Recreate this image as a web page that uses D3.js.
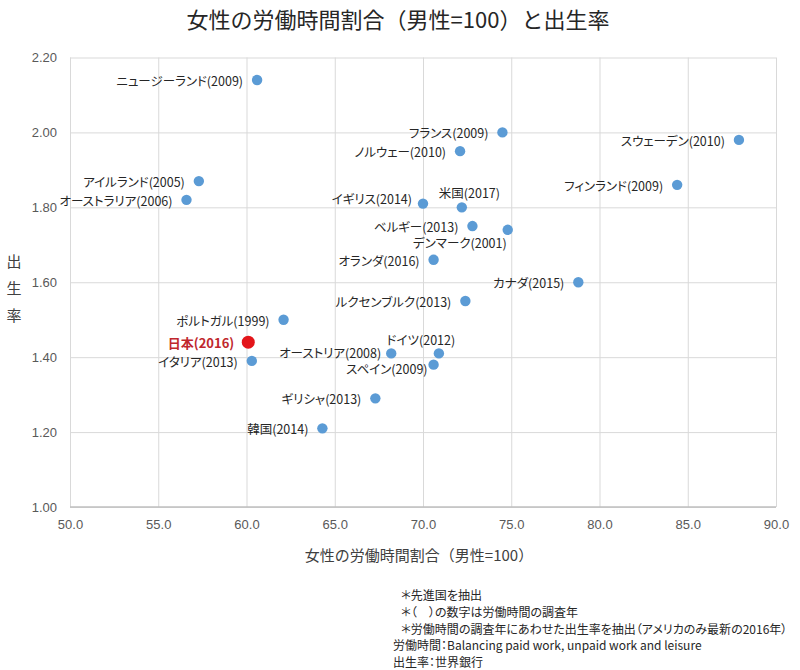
<!DOCTYPE html>
<html>
<head>
<meta charset="utf-8">
<script src="https://cdn.jsdelivr.net/npm/d3@7"></script>
<style>
  body { margin: 0; background: #fff; }
  svg { font-family: "Noto Sans CJK JP", "Noto Sans", sans-serif; font-feature-settings: "palt"; }
  .grid line { stroke: #d9d9d9; }
  .tick text { fill: #595959; font-size: 13px; font-feature-settings: normal; }
  .ptlabel { fill: #262626; font-size: 12.5px; }
  .note { fill: #262626; font-size: 12px; }
</style>
</head>
<body>
<div id="chart"></div>
<script>
// --- data ---
const countries = ['ニュージーランド', 'アイルランド', 'オーストラリア', 'フランス', 'ノルウェー',
  'スウェーデン', 'フィンランド', 'イギリス', '米国', 'ベルギー', 'デンマーク', 'オランダ',
  'カナダ', 'ルクセンブルク', 'ポルトガル', '日本', 'イタリア', 'オーストリア', 'ドイツ',
  'スペイン', 'ギリシャ', '韓国'];
const surveyYears = [2009, 2005, 2006, 2009, 2010, 2010, 2009, 2014, 2017, 2013, 2001, 2016,
  2015, 2013, 1999, 2016, 2013, 2008, 2012, 2009, 2013, 2014];
const workRatio = [60.6, 57.3, 56.6, 74.5, 72.1, 87.9, 84.4, 70.0, 72.2, 72.8, 74.8, 70.6,
  78.8, 72.4, 62.1, 60.1, 60.3, 68.2, 70.9, 70.6, 67.3, 64.3];
const birthRate = [2.14, 1.87, 1.82, 2.00, 1.95, 1.98, 1.86, 1.81, 1.80, 1.75, 1.74, 1.66,
  1.60, 1.55, 1.50, 1.44, 1.39, 1.41, 1.41, 1.38, 1.29, 1.21];
const xTicks = [50, 55, 60, 65, 70, 75, 80, 85, 90];
const yTicks = [1.0, 1.2, 1.4, 1.6, 1.8, 2.0, 2.2];
const highlight = '日本';

const title = '女性の労働時間割合（男性=100）と出生率';
const xTitle = '女性の労働時間割合（男性=100）';
const yTitle = '出生率';
const notes = [
  '＊先進国を抽出',
  '＊（　）の数字は労働時間の調査年',
  '＊労働時間の調査年にあわせた出生率を抽出（アメリカのみ最新の2016年）',
  '労働時間：Balancing paid work, unpaid work and leisure',
  '出生率：世界銀行'
];

// label placement overrides (anchor, dx from point, dy of text centre)
const labelPlace = {
  'イギリス': ['end', -11, -4],
  '米国': ['start', -23, -14],
  'デンマーク': ['end', -1, 14],
  'ドイツ': ['middle', -18, -12.5],
  'スペイン': ['end', -6, 5],
  'オーストリア': ['end', -10, 0]
};
const defaultPlace = ['end', -14, 1.5];

// --- layout ---
const W = 800, H = 670;
const plotL = 70, plotR = 776, plotT = 57.5, plotB = 507;

const svg = d3.select('#chart').append('svg')
  .attr('width', W).attr('height', H);

const x = d3.scaleLinear().domain([50, 90]).range([plotL, plotR]);
const y = d3.scaleLinear().domain([1.0, 2.2]).range([plotB, plotT]);

// gridlines + tick labels
svg.append('g')
  .attr('class', 'grid')
  .attr('transform', `translate(0,${plotB})`)
  .call(d3.axisBottom(x).tickValues(xTicks).tickFormat(d3.format('.1f'))
    .tickSize(-(plotB - plotT)).tickPadding(13))
  .call(g => g.select('.domain').remove());

svg.append('g')
  .attr('class', 'grid')
  .attr('transform', `translate(${plotL},0)`)
  .call(d3.axisLeft(y).tickValues(yTicks).tickFormat(d3.format('.2f'))
    .tickSize(-(plotR - plotL)).tickPadding(13))
  .call(g => g.select('.domain').remove());

// bottom axis line
svg.append('line')
  .attr('x1', plotL).attr('x2', plotR)
  .attr('y1', plotB).attr('y2', plotB)
  .attr('stroke', '#bfbfbf').attr('stroke-width', 1.3);

// titles
svg.append('text')
  .attr('x', 398).attr('y', 28)
  .attr('text-anchor', 'middle')
  .attr('fill', '#262626')
  .style('font-size', '22px')
  .style('font-feature-settings', 'normal')
  .text(title);

svg.append('text')
  .attr('x', 419).attr('y', 561)
  .attr('text-anchor', 'middle')
  .attr('fill', '#404040')
  .style('font-size', '15px')
  .style('font-feature-settings', 'normal')
  .text(xTitle);

svg.append('g')
  .selectAll('text')
  .data(Array.from(yTitle))
  .join('text')
  .attr('x', 14)
  .attr('y', (d, i) => 267 + i * 27)
  .attr('text-anchor', 'middle')
  .attr('fill', '#404040')
  .style('font-size', '15px')
  .text(d => d);

// points
const pts = countries.map((c, i) => ({
  name: c, year: surveyYears[i], wx: workRatio[i], br: birthRate[i]
}));

svg.append('g')
  .selectAll('circle')
  .data(pts)
  .join('circle')
  .attr('cx', d => x(d.wx))
  .attr('cy', d => y(d.br))
  .attr('r', d => d.name === highlight ? 6.5 : 5.2)
  .attr('fill', d => d.name === highlight ? '#e3151a' : '#5b9bd5');

svg.append('g')
  .selectAll('text')
  .data(pts)
  .join('text')
  .attr('class', 'ptlabel')
  .each(function (d) {
    const [anchor, dx, dy] = labelPlace[d.name] || defaultPlace;
    d3.select(this)
      .attr('text-anchor', anchor)
      .attr('x', x(d.wx) + dx)
      .attr('y', y(d.br) + dy)
      .attr('dy', '0.36em');
  })
  .style('fill', d => d.name === highlight ? '#c0272d' : null)
  .style('font-weight', d => d.name === highlight ? 'bold' : null)
  .style('font-size', d => d.name === highlight ? '13px' : null)
  .text(d => `${d.name}(${d.year})`);

// notes
svg.append('g')
  .selectAll('text')
  .data(notes)
  .join('text')
  .attr('class', 'note')
  .attr('x', d => d.startsWith('＊') ? 401 : 393)
  .attr('y', (d, i) => 600 + i * 16.8)
  .text(d => d);
</script>
</body>
</html>
